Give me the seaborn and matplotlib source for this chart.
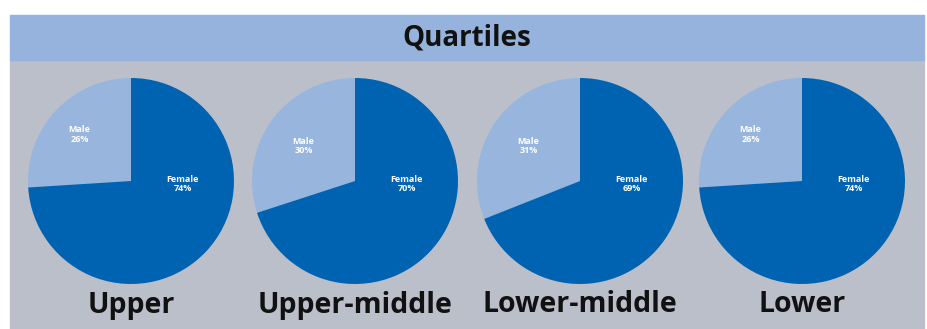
import matplotlib
matplotlib.use("Agg")
import matplotlib.pyplot as plt
import seaborn as sns
from matplotlib.patches import Rectangle

sns.set_theme(style="white")
plt.rcParams['font.family'] = ['Open Sans', 'DejaVu Sans']

title = "Quartiles"
quartiles = ["Upper", "Upper-middle", "Lower-middle", "Lower"]
male_pct = [26, 30, 31, 26]
female_pct = [74, 70, 69, 74]
slice_names = ["Male", "Female"]

c_female = "#0063b1"
c_male = "#98b5dd"
c_banner = "#95b3dd"
c_panel = "#bbbfca"

W, H = 928, 329
fig = plt.figure(figsize=(W / 100, H / 100), dpi=100)
fig.patch.set_facecolor("white")

def fx(px):
    return px / W

def fy(py):
    return 1 - py / H

# panel backgrounds
fig.patches.append(Rectangle((fx(10), fy(329)), fx(914), fy(60) - fy(329),
                             transform=fig.transFigure, color=c_panel, zorder=-2))
fig.patches.append(Rectangle((fx(10), fy(60)), fx(914), fy(15) - fy(60),
                             transform=fig.transFigure, color=c_banner, zorder=-2))
fig.text(fx(467), fy(37.5), title, ha="center", va="center", fontsize=20,
         fontweight="bold", color="#111111")

centers_x = [131, 355, 580, 802]
cy = 181
r = 103
for i, q in enumerate(quartiles):
    cx = centers_x[i]
    ax = fig.add_axes([fx(cx - r), fy(cy + r), fx(2 * r), (2 * r) / H])
    ax.pie([male_pct[i], female_pct[i]], colors=[c_male, c_female], startangle=90,
           counterclock=True, radius=1.0, wedgeprops=dict(linewidth=0))
    ax.set_xlim(-1, 1)
    ax.set_ylim(-1, 1)
    ax.set_aspect("equal")
    ax.axis("off")
    my = 0.45 if male_pct[i] < 28 else 0.34
    ax.text(-0.50, my, f"{slice_names[0]}\n{male_pct[i]}%", ha="center", va="center",
            fontsize=6.5, fontweight="bold", color="white", linespacing=1.1)
    ax.text(0.50, -0.03, f"{slice_names[1]}\n{female_pct[i]}%", ha="center", va="center",
            fontsize=6.5, fontweight="bold", color="white", linespacing=1.1)
    fig.text(fx(cx), fy(305), q, ha="center", va="center", fontsize=20.5,
             fontweight="bold", color="#111111")

fig.savefig("out.png", dpi=100)
